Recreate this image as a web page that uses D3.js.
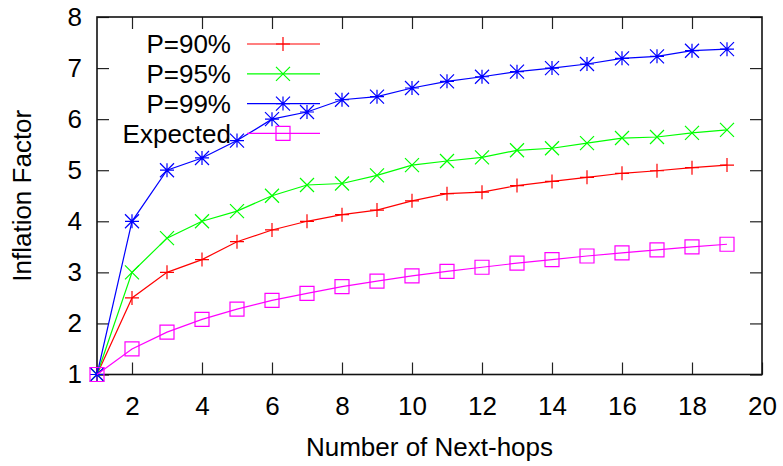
<!DOCTYPE html>
<html>
<head>
<meta charset="utf-8">
<script src="https://cdn.jsdelivr.net/npm/d3@7"></script>
<style>
  html, body { margin: 0; padding: 0; background: #fff; }
  svg text { font-family: "Liberation Sans", Arial, sans-serif; fill: #000; }
</style>
</head>
<body>
<svg id="chart" width="783" height="466"></svg>
<script>
// Number of next-hops (x) and inflation factor per series
const hops = [1, 2, 3, 4, 5, 6, 7, 8, 9, 10, 11, 12, 13, 14, 15, 16, 17, 18, 19];
const p90 = [1, 2.5, 3.0, 3.25, 3.6, 3.83, 4.0, 4.13, 4.22, 4.4, 4.54, 4.57, 4.7, 4.78, 4.86, 4.94, 4.99, 5.05, 5.1];
const p95 = [1, 3.0, 3.67, 4.0, 4.2, 4.5, 4.71, 4.74, 4.9, 5.1, 5.18, 5.25, 5.39, 5.43, 5.53, 5.63, 5.65, 5.73, 5.79];
const p99 = [1, 4.0, 5.0, 5.24, 5.58, 6.0, 6.14, 6.38, 6.44, 6.61, 6.74, 6.83, 6.93, 7.0, 7.08, 7.19, 7.23, 7.34, 7.37];
const expected = [1, 1.5, 1.83, 2.08, 2.28, 2.45, 2.59, 2.72, 2.83, 2.93, 3.02, 3.1, 3.18, 3.25, 3.32, 3.38, 3.44, 3.5, 3.55];

const seriesNames = ["P=90%", "P=95%", "P=99%", "Expected"];
const xTicks = [2, 4, 6, 8, 10, 12, 14, 16, 18, 20];
const yTicks = [1, 2, 3, 4, 5, 6, 7, 8];

const series = [
  { name: seriesNames[0], values: p90, color: "#ff0000", marker: "plus" },
  { name: seriesNames[1], values: p95, color: "#00ff00", marker: "cross" },
  { name: seriesNames[2], values: p99, color: "#0000ff", marker: "star" },
  { name: seriesNames[3], values: expected, color: "#ff00ff", marker: "square" }
];

const svg = d3.select("#chart");
const plotL = 97, plotR = 762, plotT = 17, plotB = 374.5;
const fontSize = 26;

const x = d3.scaleLinear().domain([1, 20]).range([plotL, plotR]);
const y = d3.scaleLinear().domain([1, 8]).range([plotB, plotT]);

// Marker glyph paths centred on (0,0)
const s = 7;
const markerPath = {
  plus: `M${-s},0H${s}M0,${-s}V${s}`,
  cross: `M${-s},${-s}L${s},${s}M${-s},${s}L${s},${-s}`,
  star: `M${-s},0H${s}M0,${-s}V${s}M${-s},${-s}L${s},${s}M${-s},${s}L${s},${-s}`,
  square: `M${-s},${-s}H${s}V${s}H${-s}Z`
};

// Inward ticks on all four sides
function styleAxis(g) {
  g.select(".domain").remove();
  g.selectAll(".tick line").attr("stroke", "#222").attr("stroke-width", 1.2);
  g.selectAll(".tick text").style("font-size", fontSize + "px")
    .style("font-family", '"Liberation Sans", Arial, sans-serif').attr("fill", "#000");
}

svg.append("g").attr("transform", `translate(0,${plotB})`)
  .call(d3.axisBottom(x).tickValues(xTicks).tickSizeInner(-12).tickSizeOuter(0).tickPadding(22).tickFormat(d3.format("d")))
  .call(styleAxis);
svg.append("g").attr("transform", `translate(0,${plotT})`)
  .call(d3.axisTop(x).tickValues(xTicks.filter(d => d < 20)).tickSizeInner(-12).tickSizeOuter(0).tickFormat(""))
  .call(styleAxis);
svg.append("g").attr("transform", `translate(${plotL},0)`)
  .call(d3.axisLeft(y).tickValues(yTicks).tickSizeInner(-12).tickSizeOuter(0).tickPadding(15).tickFormat(d3.format("d")))
  .call(styleAxis);
svg.append("g").attr("transform", `translate(${plotR},0)`)
  .call(d3.axisRight(y).tickValues(yTicks).tickSizeInner(-12).tickSizeOuter(0).tickFormat(""))
  .call(styleAxis);

// Frame
svg.append("rect")
  .attr("x", plotL).attr("y", plotT)
  .attr("width", plotR - plotL).attr("height", plotB - plotT)
  .attr("fill", "none").attr("stroke", "#111").attr("stroke-width", 1.6);

// Axis titles
svg.append("text")
  .attr("x", (plotL + plotR) / 2).attr("y", 456)
  .attr("text-anchor", "middle").style("font-size", fontSize + "px")
  .text("Number of Next-hops");
svg.append("text")
  .attr("transform", `translate(31,${(plotT + plotB) / 2}) rotate(-90)`)
  .attr("text-anchor", "middle").style("font-size", fontSize + "px")
  .text("Inflation Factor");

const line = d3.line().x((d, i) => x(hops[i])).y(d => y(d));

// Legend geometry
const legTextX = 231, legLineX0 = 247, legLineX1 = 320, legMarkX = 283;
const legRowY = i => 44 + i * 29.8;

series.forEach((sr, k) => {
  const g = svg.append("g");
  // key entry
  g.append("text")
    .attr("x", legTextX).attr("y", legRowY(k))
    .attr("dy", "0.36em").attr("text-anchor", "end")
    .style("font-size", fontSize + "px")
    .text(sr.name);
  g.append("line")
    .attr("x1", legLineX0).attr("x2", legLineX1)
    .attr("y1", legRowY(k)).attr("y2", legRowY(k))
    .attr("stroke", sr.color).attr("stroke-width", 1.2);
  g.append("path")
    .attr("d", markerPath[sr.marker])
    .attr("transform", `translate(${legMarkX},${legRowY(k)})`)
    .attr("fill", "none").attr("stroke", sr.color).attr("stroke-width", 1.2);

  // data line and markers
  g.append("path")
    .attr("d", line(sr.values))
    .attr("fill", "none").attr("stroke", sr.color).attr("stroke-width", 1.2);
  g.selectAll(".pt").data(sr.values).enter().append("path")
    .attr("class", "pt")
    .attr("d", markerPath[sr.marker])
    .attr("transform", (d, i) => `translate(${x(hops[i])},${y(d)})`)
    .attr("fill", "none").attr("stroke", sr.color).attr("stroke-width", 1.2);
});
</script>
</body>
</html>
